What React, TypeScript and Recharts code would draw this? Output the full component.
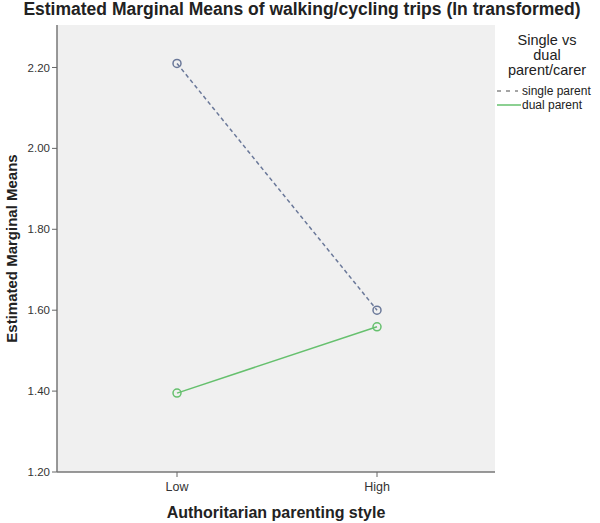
import React from "react";
import { CartesianGrid, Line, LineChart, XAxis, YAxis } from "recharts";

const styleLevels = ["Low", "High"];
const singleParent = [2.21, 1.6];
const dualParent = [1.395, 1.559];
const yTicks = [1.2, 1.4, 1.6, 1.8, 2.0, 2.2];

const data = styleLevels.map((level, i) => ({
  level,
  single: singleParent[i],
  dual: dualParent[i],
}));

const FONT = "'Liberation Sans', Arial, sans-serif";
const SINGLE_COLOR = "#6a7899";
const DUAL_COLOR = "#66c06e";

export default function App() {
  return (
    <div
      style={{
        position: "absolute",
        left: 0,
        top: 0,
        width: 600,
        height: 523,
        background: "#fff",
        fontFamily: FONT,
      }}
    >
      <div
        style={{
          position: "absolute",
          left: 0,
          top: -1,
          width: 604,
          textAlign: "center",
          fontWeight: "bold",
          fontSize: 17.5,
          color: "#222",
          whiteSpace: "nowrap",
        }}
      >
        Estimated Marginal Means of walking/cycling trips (ln transformed)
      </div>
      <LineChart
        width={600}
        height={523}
        data={data}
        margin={{ top: 25, right: 105, bottom: 0, left: 0 }}
      >
        <CartesianGrid fill="#f0f0f0" horizontal={false} vertical={false} />
        <XAxis
          dataKey="level"
          padding={{ left: 120, right: 118 }}
          height={51}
          tick={{ fill: "#333", fontSize: 12.5, fontFamily: FONT }}
          tickSize={5}
          tickMargin={5}
          tickLine={{ stroke: "#666" }}
          axisLine={{ stroke: "#777", strokeWidth: 1.5 }}
          label={{
            value: "Authoritarian parenting style",
            position: "insideBottom",
            offset: 5,
            fill: "#222",
            fontSize: 16,
            fontWeight: "bold",
            fontFamily: FONT,
          }}
        />
        <XAxis
          xAxisId="top"
          dataKey="level"
          orientation="top"
          height={0}
          tick={false}
          tickLine={false}
          axisLine={{ stroke: "#aaa" }}
        />
        <YAxis
          domain={[1.2, 2.305]}
          ticks={yTicks}
          width={57}
          allowDataOverflow
          tickFormatter={(v: number) => v.toFixed(2)}
          tick={{ fill: "#333", fontSize: 11.5, fontFamily: FONT }}
          tickSize={5}
          tickLine={{ stroke: "#666" }}
          axisLine={{ stroke: "#777", strokeWidth: 1.5 }}
          label={{
            value: "Estimated Marginal Means",
            angle: -90,
            position: "insideLeft",
            offset: 12,
            style: { textAnchor: "middle" },
            fill: "#222",
            fontSize: 15,
            fontWeight: "bold",
            fontFamily: FONT,
          }}
        />
        <YAxis
          yAxisId="right"
          orientation="right"
          domain={[1.2, 2.305]}
          width={0}
          tick={false}
          tickLine={false}
          axisLine={{ stroke: "#999" }}
        />
        <Line
          dataKey="single"
          stroke={SINGLE_COLOR}
          strokeWidth={1.5}
          strokeDasharray="4 3"
          dot={{ r: 4, stroke: SINGLE_COLOR, strokeWidth: 1.5, fill: "none", strokeDasharray: "none" }}
          isAnimationActive={false}
        />
        <Line
          dataKey="dual"
          stroke={DUAL_COLOR}
          strokeWidth={1.5}
          dot={{ r: 4, stroke: DUAL_COLOR, strokeWidth: 1.5, fill: "none" }}
          isAnimationActive={false}
        />
      </LineChart>
      <div
        style={{
          position: "absolute",
          left: 494,
          top: 33,
          width: 106,
          textAlign: "center",
          fontSize: 14.5,
          lineHeight: "15px",
          color: "#222",
        }}
      >
        Single vs
        <br />
        dual
        <br />
        parent/carer
      </div>
      <svg
        style={{ position: "absolute", left: 496, top: 82 }}
        width={104}
        height={32}
      >
        <line x1={1} x2={22} y1={9} y2={9} stroke="#888" strokeWidth={1.5} strokeDasharray="4 5" />
        <text x={26} y={13} fontSize={12} fill="#222" fontFamily={FONT}>
          single parent
        </text>
        <line x1={1} x2={25} y1={23} y2={23} stroke={DUAL_COLOR} strokeWidth={1.5} />
        <text x={26} y={27} fontSize={12} fill="#222" fontFamily={FONT}>
          dual parent
        </text>
      </svg>
    </div>
  );
}
